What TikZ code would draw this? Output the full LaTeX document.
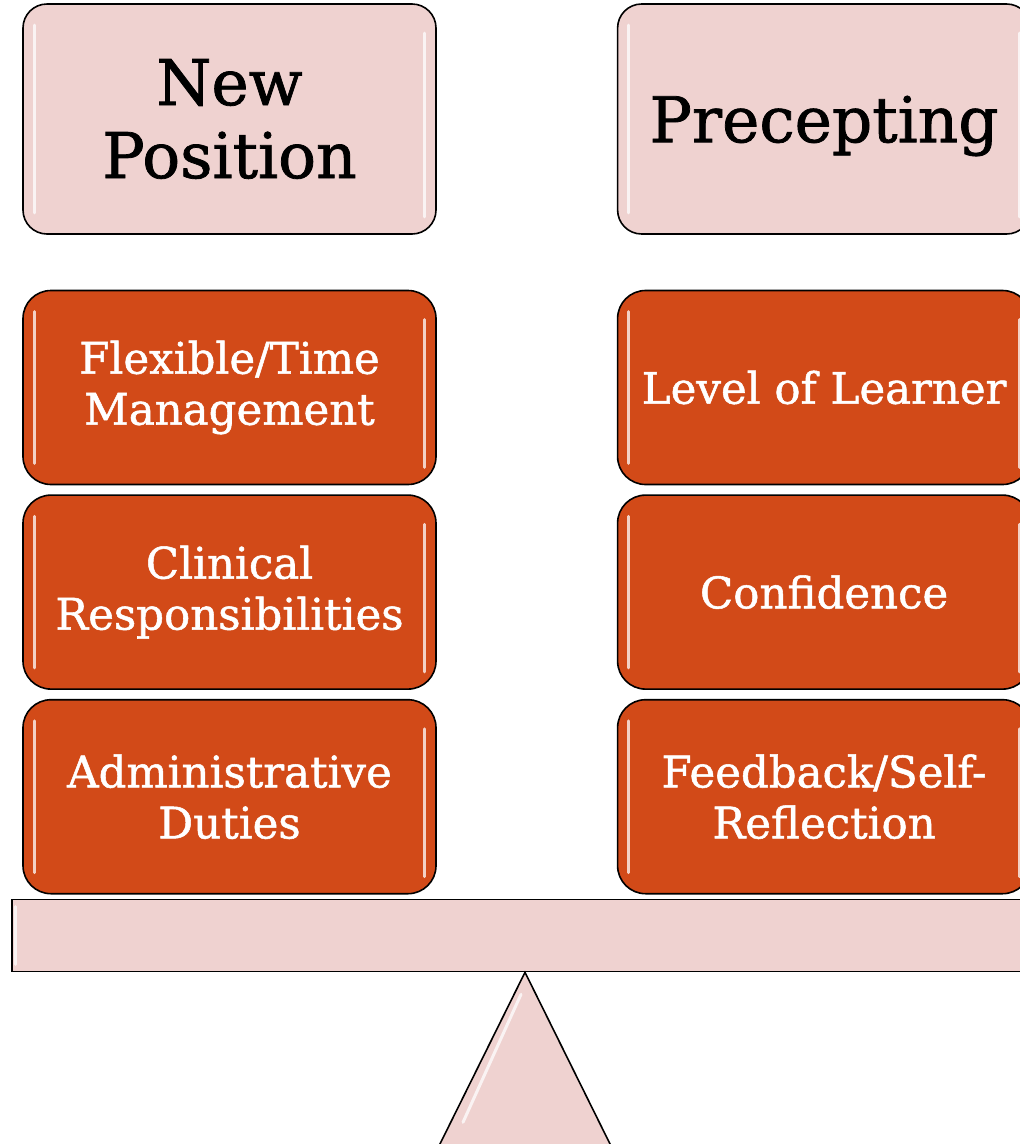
\documentclass[tikz,border=0pt]{standalone}
\usepackage{fontspec}
\setmainfont{DejaVu Serif}
\newfontface\slab{DejaVu Serif}[FakeBold=1.2]
\usetikzlibrary{positioning,calc}
\definecolor{boxpink}{HTML}{EFD2D0}
\definecolor{boxorange}{HTML}{D24A18}

\begin{document}
\begin{tikzpicture}[x=1pt,y=-1pt,
					node distance=9pt,
					head box/.style={draw,line width=1.6pt,rounded corners=24pt,fill=boxpink,
					  minimum width=413pt,minimum height=230pt,align=center,
					  font=\slab\fontsize{63}{73}\selectfont},
					item box/.style={draw,line width=1.6pt,rounded corners=28pt,fill=boxorange,
					  minimum width=413pt,minimum height=194pt,align=center,text=white,
					  font=\slab\fontsize{43.5}{51}\selectfont},
					beam box/.style={draw,line width=1.6pt,fill=boxpink,
					  minimum width=1026pt,minimum height=72pt},
					shine/.style={white,line width=3pt,line cap=round,opacity=0.75}]

  \clip (0,0) rectangle (1020,1144);

  \node[head box] (newpos) at (229.5,119) {New\\Position};
  \node[head box,text depth=0pt] (precept) [right=180pt of newpos] {Precepting};

  \node[item box] (flex) at (229.5,387.5) {Flexible/Time\\Management};
  \node[item box] (clin) [below=of flex] {Clinical\\Responsibilities};
  \node[item box] (admin) [below=of clin] {Administrative\\Duties};

  \node[item box] (level) [right=180pt of flex] {Level of Learner};
  \node[item box] (conf) [below=of level] {Confidence};
  \node[item box] (feed) [below=of conf] {Feedback/Self-\\Reflection};

  % balance
  \node[beam box] (beam) at (525,935.5) {};
  \draw[line width=1.6pt,fill=boxpink] (beam.south) -- (437,1150) -- (613,1150) -- cycle;
  \draw[shine] ($(beam.south)+(-4,22)$) -- ($(beam.south)+(-62,150)$);
  \draw[shine] ($(beam.north west)+(4,8)$) -- ($(beam.south west)+(4,-8)$);

  \foreach \n in {newpos,precept,flex,clin,admin,level,conf,feed}{
    \draw[shine] ($(\n.north west)+(12,22)$) -- ($(\n.south west)+(12,-22)$);
    \draw[shine] ($(\n.north east)+(-12,30)$) -- ($(\n.south east)+(-12,-18)$);
  }
\end{tikzpicture}
\end{document}
